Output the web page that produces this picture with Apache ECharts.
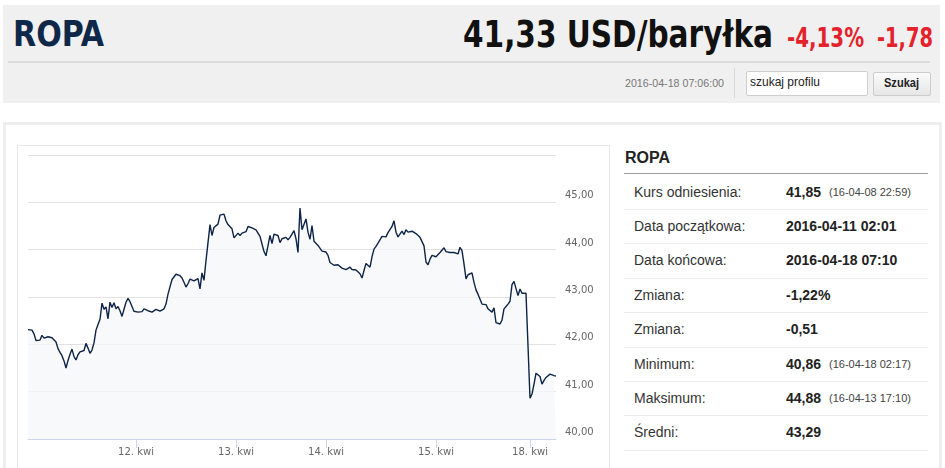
<!DOCTYPE html>
<html>
<head>
<meta charset="utf-8">
<script src="https://cdn.jsdelivr.net/npm/echarts@6/dist/echarts.min.js"></script>
<style>
  html, body { margin: 0; padding: 0; background: #fff; width: 945px; height: 468px; overflow: hidden; }
  body { position: relative; font-family: "Liberation Sans", Arial, sans-serif; }
  .abs { position: absolute; white-space: nowrap; }
  .fit { transform-origin: 0 50%; display: inline-block; }
  #top { left: 3px; top: 5px; width: 937px; height: 98px; background: #f0f0f0; }
  #chart-box { left: 17px; top: 145px; width: 591px; height: 340px; border: 1px solid #e8e8e8; }
  #panel { left: 3px; top: 122px; width: 933px; height: 400px; border: 3px solid #eeeeee; }
  .row-label { font-size: 14px; color: #333; }
  .row-val { font-size: 14px; font-weight: bold; color: #222; }
  .row-note { font-size: 11px; color: #444; }
  .row-sep { height: 1px; background: #ececec; left: 624px; width: 304px; }
</style>
</head>
<body>
<div id="top" class="abs"></div>
<div class="abs" style="left:8px;top:61px;width:922px;height:2px;background:#dcdcdc"></div>
<div class="abs" style="left:13px;top:17px;font-family:'Liberation Sans Narrow','DejaVu Sans Condensed',sans-serif;font-weight:bold;font-size:35px;line-height:35px;color:#0f2849"><span class="fit" data-w="91">ROPA</span></div>
<div class="abs" style="left:463px;top:15px;font-family:'Liberation Sans Narrow','DejaVu Sans Condensed',sans-serif;font-weight:bold;font-size:38px;line-height:38px;color:#111"><span class="fit" data-w="310">41,33 USD/baryłka</span></div>
<div class="abs" style="left:787px;top:25px;font-family:'Liberation Sans Narrow','DejaVu Sans Condensed',sans-serif;font-weight:bold;font-size:26px;line-height:26px;color:#e4222c"><span class="fit" data-w="77">-4,13%</span></div>
<div class="abs" style="left:877px;top:25px;font-family:'Liberation Sans Narrow','DejaVu Sans Condensed',sans-serif;font-weight:bold;font-size:26px;line-height:26px;color:#e4222c"><span class="fit" data-w="56">-1,78</span></div>
<div class="abs" style="left:625px;top:77px;font-size:11px;line-height:12px;color:#777"><span class="fit" data-w="99">2016-04-18 07:06:00</span></div>
<div class="abs" style="left:734px;top:68px;width:1px;height:30px;background:#d8d8d8"></div>
<div class="abs" style="left:746px;top:71px;width:120px;height:23px;background:#fff;border:1px solid #cfcfcf;border-radius:2px"></div>
<div class="abs" style="left:750px;top:76px;font-size:12px;line-height:13px;color:#222"><span class="fit" data-w="70">szukaj profilu</span></div>
<div class="abs" style="left:873px;top:72px;width:56px;height:22px;border:1px solid #cccccc;border-radius:2px;background:linear-gradient(#fbfbfb,#e6e6e6)"></div>
<div class="abs" style="left:884px;top:77px;font-size:12px;line-height:13px;font-weight:bold;color:#222"><span class="fit" data-w="35">Szukaj</span></div>

<div id="panel" class="abs"></div>
<div id="chart-box" class="abs"></div>
<div id="chart" class="abs" style="left:18px;top:146px;width:590px;height:322px"></div>

<div class="abs" style="left:625px;top:150px;font-size:16px;line-height:16px;font-weight:bold;color:#222">ROPA</div>
<div class="abs" style="left:624px;top:173px;width:304px;height:1px;background:#9a9a9a"></div>
<div id="info"></div>

<script>
// price readings per trading day (USD per barrel)
const day11 = [
  42.31, 42.30, 42.30, 42.22, 42.08, 42.09, 42.09, 42.19, 42.13, 42.09,
  42.16, 42.14, 42.14, 42.13, 42.05, 41.91, 41.83, 41.76, 41.65, 41.50,
  41.66, 41.79, 41.90, 41.74, 41.67, 41.78, 41.84, 41.88, 41.87, 42.02,
  41.92, 41.81, 41.88, 42.03, 42.30, 42.42, 42.53, 42.87, 42.74, 42.79,
  42.54, 42.89, 42.78, 42.88, 42.75, 42.80, 42.71, 42.59, 42.74, 42.89,
  42.97, 42.90, 42.80, 42.70
];
const day12 = [
  42.73, 42.68, 42.70, 42.69, 42.75, 42.76, 42.71, 42.72, 42.68, 42.71,
  42.74, 42.72, 42.70, 42.70, 42.75, 42.85, 43.06, 43.06, 43.37, 43.38,
  43.48, 43.48, 43.45, 43.40, 43.31, 43.21, 43.28, 43.38, 43.41, 43.34,
  43.36, 43.39, 43.17, 43.51, 43.35, 43.77, 43.77, 44.53, 44.30, 44.47,
  44.49, 44.54, 44.73, 44.72, 44.75, 44.61, 44.53, 44.56, 44.44, 44.25
];
const day13 = [
  44.29, 44.35, 44.30, 44.35, 44.35, 44.38, 44.49, 44.52, 44.46, 44.45,
  44.42, 44.35, 44.28, 44.12, 43.96, 43.87, 43.84, 44.30, 44.13, 44.33,
  44.33, 44.30, 44.15, 44.23, 44.21, 44.26, 44.21, 44.26, 44.24, 44.40,
  44.23, 43.94, 44.88, 44.42, 44.44, 44.65, 44.37, 44.22, 44.51, 44.18,
  44.18, 44.09, 44.05, 43.97, 43.97
];
const day14 = [
  43.95, 43.88, 43.73, 43.69, 43.67, 43.70, 43.68, 43.65, 43.61, 43.60,
  43.58, 43.58, 43.63, 43.58, 43.61, 43.57, 43.57, 43.49, 43.40, 43.56,
  43.71, 43.72, 43.63, 43.85, 44.01, 44.07, 44.14, 44.18, 44.28, 44.30,
  44.27, 44.36, 44.38, 44.49, 44.61, 44.37, 44.27, 44.23, 44.39, 44.32,
  44.42, 44.37, 44.39, 44.39, 44.36, 44.34, 44.30, 44.26, 44.28, 44.08,
  43.74, 43.68, 43.80, 43.88, 43.90
];
const day15 = [
  43.85, 43.89, 43.94, 43.92, 44.04, 43.96, 43.93, 43.94, 43.92, 43.94,
  43.94, 43.91, 44.05, 43.98, 43.70, 43.38, 43.47, 43.47, 43.51, 43.31,
  43.15, 43.06, 43.05, 42.85, 42.85, 42.84, 42.75, 42.71, 42.68, 42.77,
  42.46, 42.44, 42.43, 42.51, 42.75, 42.80, 42.85, 42.91, 43.26, 43.33,
  43.35, 43.03, 43.17, 43.08, 43.12, 43.08, 43.06
];
const day18 = [
  40.86, 40.95, 41.16, 41.39, 41.43, 41.32, 41.16, 41.24, 41.30, 41.33,
  41.37, 41.41, 41.34, 41.33
];
const dayLabels = ['', '12. kwi', '13. kwi', '14. kwi', '15. kwi', '18. kwi'];

const yMin = 40, yMax = 46, yStep = 1;

const infoLabels = ['Kurs odniesienia:', 'Data początkowa:', 'Data końcowa:', 'Zmiana:', 'Zmiana:', 'Minimum:', 'Maksimum:', 'Średni:'];
const infoValues = ['41,85', '2016-04-11 02:01', '2016-04-18 07:10', '-1,22%', '-0,51', '40,86', '44,88', '43,29'];
const infoNotes = ['(16-04-08 22:59)', '', '', '', '', '(16-04-18 02:17)', '(16-04-13 17:10)', ''];

// info table
let info = document.getElementById('info');
let html = '';
infoLabels.forEach((lab, i) => {
  let cy = 191.5 + i * 34.4;
  html += '<div class="abs row-label" style="left:634px;top:' + (cy - 8) + 'px;line-height:16px">' + lab + '</div>';
  html += '<div class="abs row-val" style="left:786px;top:' + (cy - 8) + 'px;line-height:16px">' + infoValues[i] + '</div>';
  if (infoNotes[i]) {
    html += '<div class="abs row-note" style="left:829px;top:' + (cy - 6) + 'px;line-height:13px">' + infoNotes[i] + '</div>';
  }
  html += '<div class="abs row-sep" style="top:' + Math.round(cy + 17.5) + 'px"></div>';
});
info.innerHTML = html;

// squeeze header texts to the widths of the original
document.querySelectorAll('.fit').forEach(el => {
  let w = el.getBoundingClientRect().width;
  el.style.transform = 'scaleX(' + (parseFloat(el.dataset.w) / w) + ')';
});

// chart data
let days = [day11, day12, day13, day14, day15, day18];
let categories = [];
let prices = [];
let dayStart = {};
days.forEach((d, di) => {
  if (di > 0) dayStart[categories.length] = dayLabels[di];
  d.forEach((v, i) => {
    categories.push(String(categories.length));
    prices.push(v);
  });
});
let isDayStart = idx => dayStart[idx] !== undefined;

let chart = echarts.init(document.getElementById('chart'));
chart.setOption({
  animation: false,
  grid: { left: 10, right: 52, top: 9, bottom: 29 },
  xAxis: {
    type: 'category',
    data: categories,
    boundaryGap: false,
    axisLine: { lineStyle: { color: '#ccd6eb', width: 1 } },
    axisTick: { show: true, length: 9, interval: isDayStart, lineStyle: { color: '#ccd6eb' } },
    axisLabel: {
      interval: 0,
      hideOverlap: false,
      margin: 8,
      color: '#666',
      fontSize: 10,
      fontFamily: 'DejaVu Sans',
      formatter: (v, idx) => dayStart[idx] || ''
    },
    splitLine: { show: false }
  },
  yAxis: {
    type: 'value',
    position: 'right',
    min: yMin,
    max: yMax,
    interval: yStep,
    axisLine: { show: false },
    axisTick: { show: false },
    splitLine: { lineStyle: { color: '#e3e3e3', width: 1 } },
    axisLabel: {
      margin: 9,
      color: '#666',
      fontSize: 10,
      fontFamily: 'DejaVu Sans',
      verticalAlign: 'bottom',
      lineHeight: 13,
      formatter: v => v === yMax ? '' : v.toFixed(2).replace('.', ',')
    }
  },
  series: [{
    type: 'line',
    data: prices,
    showSymbol: false,
    lineStyle: { color: '#0e2446', width: 1.4 },
    areaStyle: { color: '#f4f6f9', origin: 'start' }
  }]
});
</script>
</body>
</html>
